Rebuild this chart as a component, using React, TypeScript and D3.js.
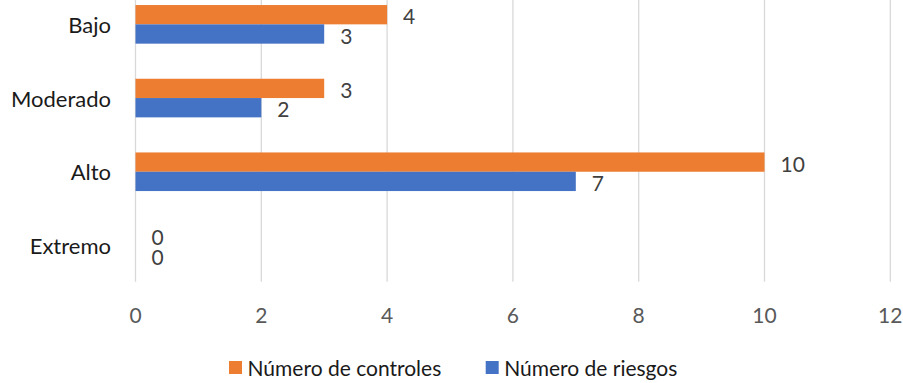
import React from "react";
import * as d3 from "d3";

const categories = ["Bajo", "Moderado", "Alto", "Extremo"];
const seriesNames = ["Número de controles", "Número de riesgos"];
const controles = [4, 3, 10, 0];
const riesgos = [3, 2, 7, 0];
const xTicks = [0, 2, 4, 6, 8, 10, 12];
const colors = ["#ED7D31", "#4472C4"];

const W = 903;
const H = 383;
const FONT = "Lato, 'Open Sans', sans-serif";

export default function App() {
  const x = d3.scaleLinear().domain([0, 12]).range([135.5, 890.3]);
  const y = d3
    .scaleBand<string>()
    .domain(categories)
    .range([-12.5, 282.3])
    .paddingInner(0.476)
    .paddingOuter(0.238);
  const sub = d3.scaleBand<string>().domain(["c", "r"]).range([0, y.bandwidth()]);
  const values = [controles, riesgos];
  const keys = ["c", "r"];
  const gridTop = 0;
  const gridBottom = 281.7;

  return (
    <svg
      width={W}
      height={H}
      style={{ position: "absolute", left: 0, top: 0, background: "#fff" }}
      fontFamily={FONT}
    >
      <rect x={0} y={0} width={W} height={H} fill="#fff" />
      {xTicks.map((t) => (
        <line
          key={"g" + t}
          x1={x(t)}
          x2={x(t)}
          y1={gridTop}
          y2={gridBottom}
          stroke="#D9D9D9"
          strokeWidth={1.3}
        />
      ))}
      {xTicks.map((t) => (
        <text
          key={"t" + t}
          x={x(t)}
          y={314}
          textAnchor="middle"
          dominantBaseline="central"
          fontSize={21}
          fill="#595959"
        >
          {t}
        </text>
      ))}
      {categories.map((c) => (
        <text
          key={"c" + c}
          x={111}
          y={(y(c) as number) + y.bandwidth() / 2}
          textAnchor="end"
          dominantBaseline="central"
          fontSize={22}
          fill="#1a1a1a"
        >
          {c}
        </text>
      ))}
      {categories.map((c, i) =>
        keys.map((k, s) => {
          const v = values[s][i];
          const by = (y(c) as number) + (sub(k) as number);
          const bh = sub.bandwidth();
          return (
            <g key={c + k}>
              {v > 0 && (
                <rect
                  x={x(0)}
                  y={by}
                  width={x(v) - x(0)}
                  height={bh}
                  fill={colors[s]}
                />
              )}
              <text
                x={x(v) + 16}
                y={by + bh / 2 + 1}
                dominantBaseline="central"
                fontSize={21}
                fill="#404040"
              >
                {v}
              </text>
            </g>
          );
        })
      )}
      {seriesNames.map((n, s) => {
        const lx = [229, 485.7][s];
        return (
          <g key={"l" + n}>
            <rect x={lx} y={361} width={13} height={13} fill={colors[s]} />
            <text
              x={lx + 18.5}
              y={367.5}
              dominantBaseline="central"
              fontSize={21}
              fill="#1a1a1a"
            >
              {n}
            </text>
          </g>
        );
      })}
    </svg>
  );
}
